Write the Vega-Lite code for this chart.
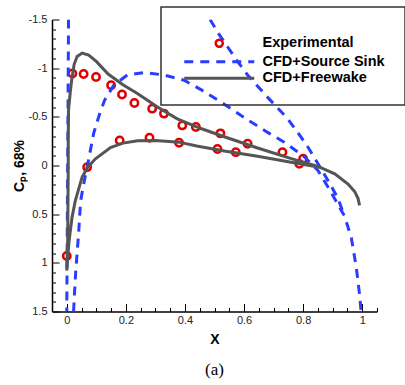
{
  "$schema": "https://vega.github.io/schema/vega-lite/v6.json",
  "width": 325,
  "height": 292,
  "autosize": {"type": "none"},
  "padding": {"left": 52, "top": 19.5, "right": 28, "bottom": 73.5},
  "background": "white",
  "config": {"view": {"stroke": null}, "font": "Liberation Sans"},
  "title": {"text": "(a)", "orient": "bottom", "anchor": "middle", "font": "Liberation Serif", "fontSize": 17, "fontWeight": "normal", "color": "#000", "offset": 15},
  "data": {"values": [
    {"series": "Experimental", "seg": "e", "i": 0, "x": 0.0, "y": 0.93},
    {"series": "Experimental", "seg": "e", "i": 1, "x": 0.019, "y": -0.945},
    {"series": "Experimental", "seg": "e", "i": 2, "x": 0.057, "y": -0.94},
    {"series": "Experimental", "seg": "e", "i": 3, "x": 0.099, "y": -0.91},
    {"series": "Experimental", "seg": "e", "i": 4, "x": 0.15, "y": -0.825},
    {"series": "Experimental", "seg": "e", "i": 5, "x": 0.187, "y": -0.73},
    {"series": "Experimental", "seg": "e", "i": 6, "x": 0.229, "y": -0.642},
    {"series": "Experimental", "seg": "e", "i": 7, "x": 0.289, "y": -0.584},
    {"series": "Experimental", "seg": "e", "i": 8, "x": 0.329, "y": -0.533},
    {"series": "Experimental", "seg": "e", "i": 9, "x": 0.391, "y": -0.412},
    {"series": "Experimental", "seg": "e", "i": 10, "x": 0.437, "y": -0.395},
    {"series": "Experimental", "seg": "e", "i": 11, "x": 0.52, "y": -0.33},
    {"series": "Experimental", "seg": "e", "i": 12, "x": 0.612, "y": -0.224},
    {"series": "Experimental", "seg": "e", "i": 13, "x": 0.73, "y": -0.137},
    {"series": "Experimental", "seg": "e", "i": 14, "x": 0.8, "y": -0.07},
    {"series": "Experimental", "seg": "e", "i": 15, "x": 0.069, "y": 0.017},
    {"series": "Experimental", "seg": "e", "i": 16, "x": 0.179, "y": -0.258},
    {"series": "Experimental", "seg": "e", "i": 17, "x": 0.28, "y": -0.285},
    {"series": "Experimental", "seg": "e", "i": 18, "x": 0.38, "y": -0.234},
    {"series": "Experimental", "seg": "e", "i": 19, "x": 0.51, "y": -0.17},
    {"series": "Experimental", "seg": "e", "i": 20, "x": 0.572, "y": -0.137},
    {"series": "Experimental", "seg": "e", "i": 21, "x": 0.787, "y": -0.017},

    {"series": "CFD+Source Sink", "seg": "A", "i": 0, "x": 0.006, "y": -1.5},
    {"series": "CFD+Source Sink", "seg": "A", "i": 1, "x": 0.005, "y": -1.0},
    {"series": "CFD+Source Sink", "seg": "A", "i": 2, "x": 0.004, "y": -0.5},
    {"series": "CFD+Source Sink", "seg": "A", "i": 3, "x": 0.003, "y": 0.0},
    {"series": "CFD+Source Sink", "seg": "A", "i": 4, "x": 0.002, "y": 0.5},
    {"series": "CFD+Source Sink", "seg": "A", "i": 5, "x": 0.001, "y": 1.0},
    {"series": "CFD+Source Sink", "seg": "A", "i": 6, "x": 0.0, "y": 1.5},

    {"series": "CFD+Source Sink", "seg": "B", "i": 0, "x": 0.023, "y": 1.5},
    {"series": "CFD+Source Sink", "seg": "B", "i": 1, "x": 0.03, "y": 1.1},
    {"series": "CFD+Source Sink", "seg": "B", "i": 2, "x": 0.04, "y": 0.7},
    {"series": "CFD+Source Sink", "seg": "B", "i": 3, "x": 0.047, "y": 0.36},
    {"series": "CFD+Source Sink", "seg": "B", "i": 4, "x": 0.058, "y": 0.18},
    {"series": "CFD+Source Sink", "seg": "B", "i": 5, "x": 0.069, "y": 0.017},
    {"series": "CFD+Source Sink", "seg": "B", "i": 6, "x": 0.091, "y": -0.33},
    {"series": "CFD+Source Sink", "seg": "B", "i": 7, "x": 0.11, "y": -0.52},
    {"series": "CFD+Source Sink", "seg": "B", "i": 8, "x": 0.128, "y": -0.67},
    {"series": "CFD+Source Sink", "seg": "B", "i": 9, "x": 0.159, "y": -0.825},
    {"series": "CFD+Source Sink", "seg": "B", "i": 10, "x": 0.205, "y": -0.93},
    {"series": "CFD+Source Sink", "seg": "B", "i": 11, "x": 0.261, "y": -0.955},
    {"series": "CFD+Source Sink", "seg": "B", "i": 12, "x": 0.329, "y": -0.93},
    {"series": "CFD+Source Sink", "seg": "B", "i": 13, "x": 0.397, "y": -0.876},
    {"series": "CFD+Source Sink", "seg": "B", "i": 14, "x": 0.454, "y": -0.78},
    {"series": "CFD+Source Sink", "seg": "B", "i": 15, "x": 0.533, "y": -0.63},
    {"series": "CFD+Source Sink", "seg": "B", "i": 16, "x": 0.612, "y": -0.47},
    {"series": "CFD+Source Sink", "seg": "B", "i": 17, "x": 0.68, "y": -0.34},
    {"series": "CFD+Source Sink", "seg": "B", "i": 18, "x": 0.736, "y": -0.24},
    {"series": "CFD+Source Sink", "seg": "B", "i": 19, "x": 0.8, "y": -0.1},
    {"series": "CFD+Source Sink", "seg": "B", "i": 20, "x": 0.85, "y": 0.05},
    {"series": "CFD+Source Sink", "seg": "B", "i": 21, "x": 0.884, "y": 0.22},
    {"series": "CFD+Source Sink", "seg": "B", "i": 22, "x": 0.912, "y": 0.37},
    {"series": "CFD+Source Sink", "seg": "B", "i": 23, "x": 0.94, "y": 0.52},
    {"series": "CFD+Source Sink", "seg": "B", "i": 24, "x": 0.963, "y": 0.74},
    {"series": "CFD+Source Sink", "seg": "B", "i": 25, "x": 0.98, "y": 1.05},
    {"series": "CFD+Source Sink", "seg": "B", "i": 26, "x": 0.992, "y": 1.35},
    {"series": "CFD+Source Sink", "seg": "B", "i": 27, "x": 0.996, "y": 1.5},

    {"series": "CFD+Source Sink", "seg": "C", "i": 0, "x": 0.485, "y": -1.5},
    {"series": "CFD+Source Sink", "seg": "C", "i": 1, "x": 0.515, "y": -1.35},
    {"series": "CFD+Source Sink", "seg": "C", "i": 2, "x": 0.544, "y": -1.22},
    {"series": "CFD+Source Sink", "seg": "C", "i": 3, "x": 0.578, "y": -1.07},
    {"series": "CFD+Source Sink", "seg": "C", "i": 4, "x": 0.612, "y": -0.93},
    {"series": "CFD+Source Sink", "seg": "C", "i": 5, "x": 0.68, "y": -0.7},
    {"series": "CFD+Source Sink", "seg": "C", "i": 6, "x": 0.748, "y": -0.48},
    {"series": "CFD+Source Sink", "seg": "C", "i": 7, "x": 0.81, "y": -0.22},
    {"series": "CFD+Source Sink", "seg": "C", "i": 8, "x": 0.86, "y": 0.03},
    {"series": "CFD+Source Sink", "seg": "C", "i": 9, "x": 0.893, "y": 0.2},
    {"series": "CFD+Source Sink", "seg": "C", "i": 10, "x": 0.918, "y": 0.34},
    {"series": "CFD+Source Sink", "seg": "C", "i": 11, "x": 0.94, "y": 0.52},

    {"series": "CFD+Freewake", "seg": "F", "i": 0, "x": 0.86, "y": 0.022},
    {"series": "CFD+Freewake", "seg": "F", "i": 1, "x": 0.759, "y": -0.034},
    {"series": "CFD+Freewake", "seg": "F", "i": 2, "x": 0.646, "y": -0.096},
    {"series": "CFD+Freewake", "seg": "F", "i": 3, "x": 0.533, "y": -0.148},
    {"series": "CFD+Freewake", "seg": "F", "i": 4, "x": 0.44, "y": -0.2},
    {"series": "CFD+Freewake", "seg": "F", "i": 5, "x": 0.38, "y": -0.24},
    {"series": "CFD+Freewake", "seg": "F", "i": 6, "x": 0.3, "y": -0.258},
    {"series": "CFD+Freewake", "seg": "F", "i": 7, "x": 0.24, "y": -0.255},
    {"series": "CFD+Freewake", "seg": "F", "i": 8, "x": 0.19, "y": -0.23},
    {"series": "CFD+Freewake", "seg": "F", "i": 9, "x": 0.148, "y": -0.185},
    {"series": "CFD+Freewake", "seg": "F", "i": 10, "x": 0.097, "y": -0.069},
    {"series": "CFD+Freewake", "seg": "F", "i": 11, "x": 0.07, "y": 0.02},
    {"series": "CFD+Freewake", "seg": "F", "i": 12, "x": 0.052, "y": 0.12},
    {"series": "CFD+Freewake", "seg": "F", "i": 13, "x": 0.029, "y": 0.36},
    {"series": "CFD+Freewake", "seg": "F", "i": 14, "x": 0.018, "y": 0.53},
    {"series": "CFD+Freewake", "seg": "F", "i": 15, "x": 0.008, "y": 0.77},
    {"series": "CFD+Freewake", "seg": "F", "i": 16, "x": 0.002, "y": 0.98},
    {"series": "CFD+Freewake", "seg": "F", "i": 17, "x": 0.0, "y": 1.08},
    {"series": "CFD+Freewake", "seg": "F", "i": 18, "x": 0.003, "y": 0.8},
    {"series": "CFD+Freewake", "seg": "F", "i": 19, "x": 0.004, "y": 0.4},
    {"series": "CFD+Freewake", "seg": "F", "i": 20, "x": 0.005, "y": 0.0},
    {"series": "CFD+Freewake", "seg": "F", "i": 21, "x": 0.005, "y": -0.3},
    {"series": "CFD+Freewake", "seg": "F", "i": 22, "x": 0.006, "y": -0.57},
    {"series": "CFD+Freewake", "seg": "F", "i": 23, "x": 0.012, "y": -0.76},
    {"series": "CFD+Freewake", "seg": "F", "i": 24, "x": 0.018, "y": -0.91},
    {"series": "CFD+Freewake", "seg": "F", "i": 25, "x": 0.025, "y": -1.04},
    {"series": "CFD+Freewake", "seg": "F", "i": 26, "x": 0.035, "y": -1.12},
    {"series": "CFD+Freewake", "seg": "F", "i": 27, "x": 0.052, "y": -1.155},
    {"series": "CFD+Freewake", "seg": "F", "i": 28, "x": 0.074, "y": -1.135},
    {"series": "CFD+Freewake", "seg": "F", "i": 29, "x": 0.1, "y": -1.07},
    {"series": "CFD+Freewake", "seg": "F", "i": 30, "x": 0.14, "y": -0.94},
    {"series": "CFD+Freewake", "seg": "F", "i": 31, "x": 0.19, "y": -0.83},
    {"series": "CFD+Freewake", "seg": "F", "i": 32, "x": 0.239, "y": -0.74},
    {"series": "CFD+Freewake", "seg": "F", "i": 33, "x": 0.307, "y": -0.6},
    {"series": "CFD+Freewake", "seg": "F", "i": 34, "x": 0.374, "y": -0.48},
    {"series": "CFD+Freewake", "seg": "F", "i": 35, "x": 0.454, "y": -0.38},
    {"series": "CFD+Freewake", "seg": "F", "i": 36, "x": 0.533, "y": -0.295},
    {"series": "CFD+Freewake", "seg": "F", "i": 37, "x": 0.646, "y": -0.18},
    {"series": "CFD+Freewake", "seg": "F", "i": 38, "x": 0.76, "y": -0.07},
    {"series": "CFD+Freewake", "seg": "F", "i": 39, "x": 0.85, "y": 0.01},
    {"series": "CFD+Freewake", "seg": "F", "i": 40, "x": 0.907, "y": 0.086},
    {"series": "CFD+Freewake", "seg": "F", "i": 41, "x": 0.952, "y": 0.19},
    {"series": "CFD+Freewake", "seg": "F", "i": 42, "x": 0.975, "y": 0.27},
    {"series": "CFD+Freewake", "seg": "F", "i": 43, "x": 0.986, "y": 0.34},
    {"series": "CFD+Freewake", "seg": "F", "i": 44, "x": 0.991, "y": 0.41}
  ]},
  "encoding": {
    "x": {"field": "x", "type": "quantitative",
      "scale": {"domain": [-0.05, 1.05], "nice": false, "zero": false},
      "axis": {"title": "X", "titleFontWeight": "bold", "titleFontSize": 14, "titleColor": "#000", "titlePadding": 3,
        "values": [0, 0.05, 0.1, 0.15, 0.2, 0.25, 0.3, 0.35, 0.4, 0.45, 0.5, 0.55, 0.6, 0.65, 0.7, 0.75, 0.8, 0.85, 0.9, 0.95, 1, 1.05],
        "labelExpr": "round(datum.value*20) % 4 == 0 ? '' + datum.value : ''",
        "tickSize": {"condition": {"test": "round(datum.value*20) % 4 == 0", "value": -8}, "value": -4},
        "tickColor": "#000", "tickWidth": 1, "domainColor": "#000", "domainWidth": 1.5,
        "labelFontSize": 11, "labelColor": "#222", "labelPadding": 11, "grid": false, "labelFlush": false, "labelOverlap": false}},
    "y": {"field": "y", "type": "quantitative",
      "scale": {"domain": [-1.5, 1.5], "reverse": true, "nice": false, "zero": false},
      "axis": {"title": "Cₚ, 68%", "titleFontWeight": "bold", "titleFontSize": 14, "titleColor": "#000", "titlePadding": 2,
        "values": [-1.5, -1.4, -1.3, -1.2, -1.1, -1, -0.9, -0.8, -0.7, -0.6, -0.5, -0.4, -0.3, -0.2, -0.1, 0, 0.1, 0.2, 0.3, 0.4, 0.5, 0.6, 0.7, 0.8, 0.9, 1, 1.1, 1.2, 1.3, 1.4, 1.5],
        "labelExpr": "round(datum.value*10) % 5 == 0 ? '' + datum.value : ''",
        "tickSize": {"condition": {"test": "round(datum.value*10) % 5 == 0", "value": -7}, "value": -3.5},
        "tickColor": "#000", "tickWidth": 1, "domainColor": "#000", "domainWidth": 1.5,
        "labelFontSize": 11, "labelColor": "#222", "labelPadding": 12, "grid": false, "labelFlush": false, "labelOverlap": false}},
    "color": {"field": "series", "type": "nominal",
      "scale": {"domain": ["Experimental", "CFD+Source Sink", "CFD+Freewake"], "range": ["#e00000", "#2a3cff", "#555555"]},
      "legend": {"orient": "none", "legendX": 109, "legendY": -12.5, "title": " ", "titleFontSize": 4, "titlePadding": 5,
        "padding": 20, "strokeColor": "#333", "symbolSize": 49, "symbolStrokeWidth": 2.5,
        "symbolOffset": 31, "labelOffset": 36, "rowPadding": 1.5,
        "labelFont": "Liberation Sans", "labelFontSize": 14.5, "labelFontWeight": "bold", "labelColor": "#000", "labelLimit": 0,
        "labelExpr": "datum.label + '              '",
        "encode": {
          "legend": {"update": {"strokeWidth": {"value": 1.5}}},
          "symbols": {"update": {
          "shape": {"signal": "datum.value === 'Experimental' ? 'circle' : 'M-10,0H10'"},
          "fill": {"value": "transparent"},
          "stroke": {"signal": "datum.value === 'Experimental' ? '#e00000' : (datum.value === 'CFD+Source Sink' ? '#2a3cff' : '#555555')"},
          "strokeWidth": {"signal": "datum.value === 'Experimental' ? 2.5 : 3"},
          "strokeDash": {"signal": "datum.value === 'CFD+Source Sink' ? [9,7] : [1,0]"},
          "opacity": {"value": 1}
        }}}}}
  },
  "layer": [
    {"transform": [{"filter": "datum.series === 'Experimental'"}],
     "mark": {"type": "point", "shape": "circle", "filled": false, "size": 55, "strokeWidth": 2.5, "opacity": 1, "clip": true}},
    {"transform": [{"filter": "datum.series === 'CFD+Source Sink'"}],
     "mark": {"type": "line", "strokeWidth": 3, "strokeDash": [9, 7], "clip": true},
     "encoding": {"detail": {"field": "seg", "type": "nominal"}, "order": {"field": "i", "type": "quantitative"}}},
    {"transform": [{"filter": "datum.series === 'CFD+Freewake'"}],
     "mark": {"type": "line", "strokeWidth": 3, "clip": true},
     "encoding": {"order": {"field": "i", "type": "quantitative"}}}
  ]
}
